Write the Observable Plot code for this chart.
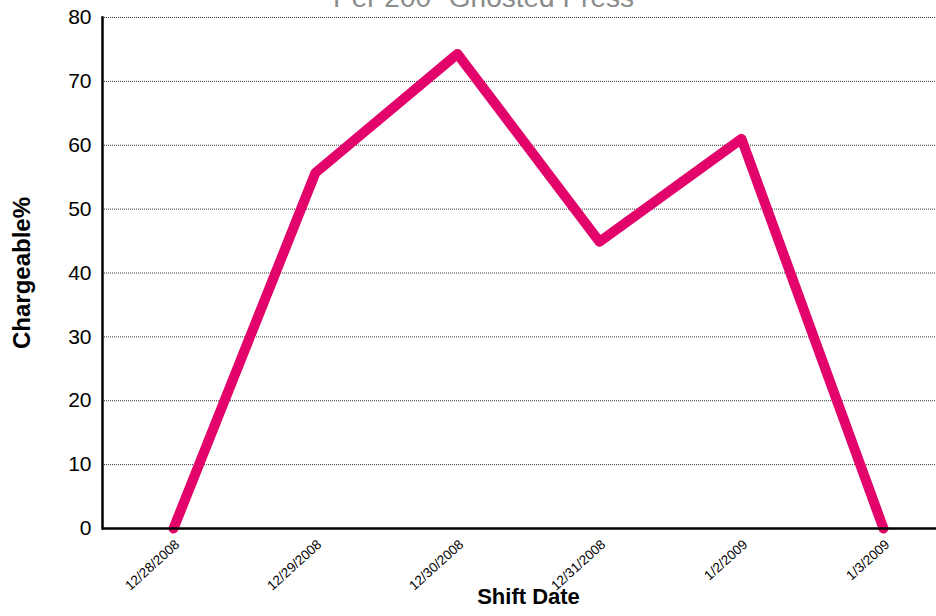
<!DOCTYPE html>
<html>
<head>
<meta charset="utf-8">
<script src="https://cdn.jsdelivr.net/npm/d3@7"></script>
<script src="https://cdn.jsdelivr.net/npm/@observablehq/plot@0.6"></script>
<style>
  html, body { margin: 0; padding: 0; background: #fff; overflow: hidden; }
  #chart svg { display: block; }
</style>
</head>
<body>
<div id="chart"></div>
<script>
const dates = ["12/28/2008", "12/29/2008", "12/30/2008", "12/31/2008", "1/2/2009", "1/3/2009"];
const chargeable = [0, 55.7, 74.3, 44.9, 61.0, 0];
const yTicks = [0, 10, 20, 30, 40, 50, 60, 70, 80];
const gridValues = [10, 20, 30, 40, 50, 60, 70, 80];
const titleText = "Per 200\" Ghosted Press";

const data = dates.map((d, i) => ({date: d, value: chargeable[i]}));

const chart = Plot.plot({
  width: 936,
  height: 616,
  marginLeft: 102,
  marginRight: 0,
  marginTop: 17,
  marginBottom: 88,
  style: {fontFamily: "Liberation Sans, Arial, sans-serif", background: "#fff", overflow: "hidden"},
  x: {type: "point", domain: dates, padding: 0.5, range: [102, 954]},
  y: {domain: [0, 80]},
  marks: [
    Plot.ruleY(gridValues, {stroke: "#333", strokeWidth: 1, strokeDasharray: "1,1"}),
    Plot.frame({anchor: "left", stroke: "#000", strokeWidth: 2.5}),
    Plot.axisY(yTicks, {tickSize: 0, tickPadding: 11, fontSize: 21, fill: "#000", label: null}),
    Plot.axisX({tickSize: 0, tickRotate: -42, tickPadding: 14, dx: 4, fontSize: 13.5, fill: "#000", label: null}),
    Plot.lineY(data, {x: "date", y: "value", stroke: "#e2036b", strokeWidth: 10, strokeLinecap: "round", strokeLinejoin: "round"}),
    Plot.ruleY([0], {stroke: "#000", strokeWidth: 2.5}),
    Plot.text(["Chargeable%"], {frameAnchor: "left", textAnchor: "middle", rotate: -90, dx: -80, fontSize: 24, fontWeight: "bold", fill: "#000"}),
    Plot.text(["Shift Date"], {frameAnchor: "bottom", textAnchor: "middle", dx: 9, dy: 75, fontSize: 22, fontWeight: "bold", fill: "#000"}),
    Plot.text([titleText], {frameAnchor: "top", textAnchor: "middle", dx: -36, dy: -11, lineAnchor: "bottom", fontSize: 28, fill: "#8c8c8c"})
  ]
});
document.getElementById("chart").appendChild(chart);
</script>
</body>
</html>
